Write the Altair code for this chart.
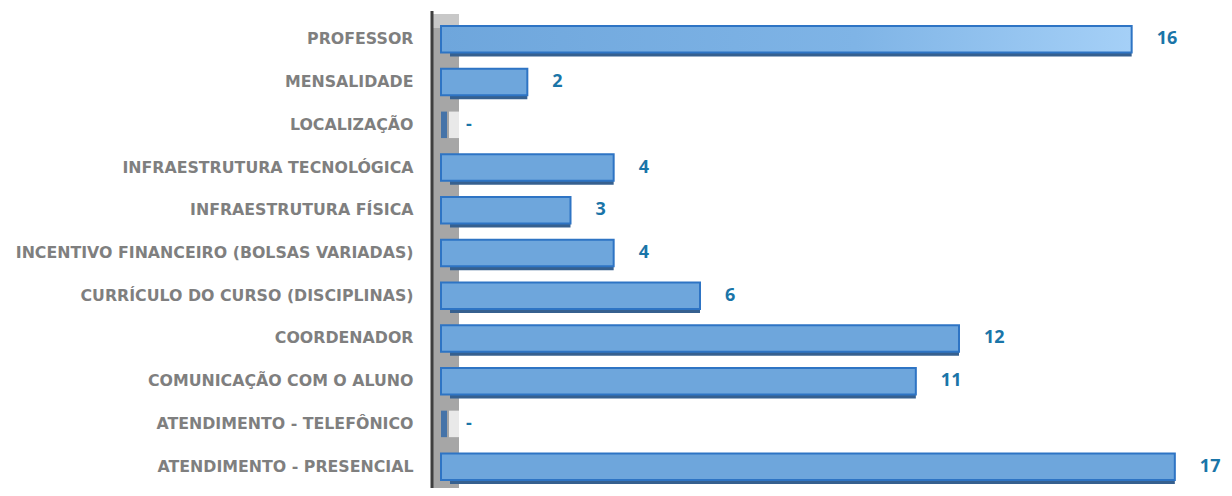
import altair as alt
import pandas as pd

categories = [
    "PROFESSOR",
    "MENSALIDADE",
    "LOCALIZAÇÃO",
    "INFRAESTRUTURA TECNOLÓGICA",
    "INFRAESTRUTURA FÍSICA",
    "INCENTIVO FINANCEIRO (BOLSAS VARIADAS)",
    "CURRÍCULO DO CURSO (DISCIPLINAS)",
    "COORDENADOR",
    "COMUNICAÇÃO COM O ALUNO",
    "ATENDIMENTO - TELEFÔNICO",
    "ATENDIMENTO - PRESENCIAL",
]
values = [16, 2, 0, 4, 3, 4, 6, 12, 11, 0, 17]
value_labels = ["-" if v == 0 else str(v) for v in values]

df = pd.DataFrame({"cat": categories, "val": values, "lab": value_labels})

W, H = 777, 470
xs = alt.Scale(domain=[0, 18], nice=False, zero=True)
ys = alt.Scale(domain=categories, paddingInner=0.38, paddingOuter=0.19)

X = alt.X("val:Q", scale=xs, axis=None)
Y = alt.Y(
    "cat:N",
    scale=ys,
    sort=categories,
    title=None,
    axis=alt.Axis(
        domain=False, ticks=False, grid=False, labelPadding=28,
        labelFont="DejaVu Sans", labelFontSize=15.8, labelFontWeight="bold",
        labelColor="#7f7f7f", labelLimit=0,
    ),
)

base = alt.Chart(df)

wall = alt.Chart(pd.DataFrame({"a": [0]})).mark_rect(color="#a6a6a6").encode(
    x=alt.value(-8), x2=alt.value(18), y=alt.value(10), y2=alt.value(H + 10)
)
wall_top = alt.Chart(pd.DataFrame({"a": [0]})).mark_rect(color="#c8c8c8").encode(
    x=alt.value(-8), x2=alt.value(18), y=alt.value(-4), y2=alt.value(10)
)
axis_line = alt.Chart(pd.DataFrame({"a": [0]})).mark_rule(
    color="#3f3f3f", strokeWidth=3
).encode(x=alt.value(-9), y=alt.value(-7), y2=alt.value(H + 10))

nonzero = base.transform_filter("datum.val > 0")
zero = base.transform_filter("datum.val == 0")

depth = nonzero.mark_bar(color="#36608f", x2Offset=9, yOffset=4).encode(
    x=alt.X("val:Q", scale=xs, axis=None), x2=alt.datum(0), y=Y
)
front = nonzero.transform_filter("datum.cat != 'PROFESSOR'").mark_bar(
    color="#6ea6dc", stroke="#2e74c4", strokeWidth=2
).encode(x=X, y=Y)
front_grad = nonzero.transform_filter("datum.cat == 'PROFESSOR'").mark_bar(
    color=alt.Gradient(
        gradient="linear", x1=0, x2=1, y1=0, y2=0,
        stops=[alt.GradientStop(color="#6ea6dc", offset=0),
               alt.GradientStop(color="#7fb4e6", offset=0.6),
               alt.GradientStop(color="#a5d0f7", offset=1)],
    ),
    stroke="#2e74c4", strokeWidth=2,
).encode(x=X, y=Y)

zero_ghost = zero.mark_bar(color="#ffffff", opacity=0.75).encode(
    x=alt.value(8), x2=alt.value(18), y=Y
)
zero_bar = zero.mark_bar(color="#3b6ea8", opacity=0.9).encode(
    x=alt.value(0), x2=alt.value(6), y=Y
)

text = base.mark_text(
    align="left", baseline="middle", dx=25, font="Open Sans", fontSize=18,
    fontWeight="bold", color="#1a75a8",
).encode(x=X, y=Y, text="lab:N")

chart = alt.layer(
    wall, wall_top, axis_line, depth, front, front_grad, zero_ghost, zero_bar, text
).properties(
    width=W, height=H,
    autosize=alt.AutoSizeParams(type="none"),
    padding={"left": 433, "top": 10, "right": 6, "bottom": 0},
).configure_view(stroke=None).configure_axis(grid=False)

chart.save("out.html", embed_options={"renderer": "svg", "actions": False})
